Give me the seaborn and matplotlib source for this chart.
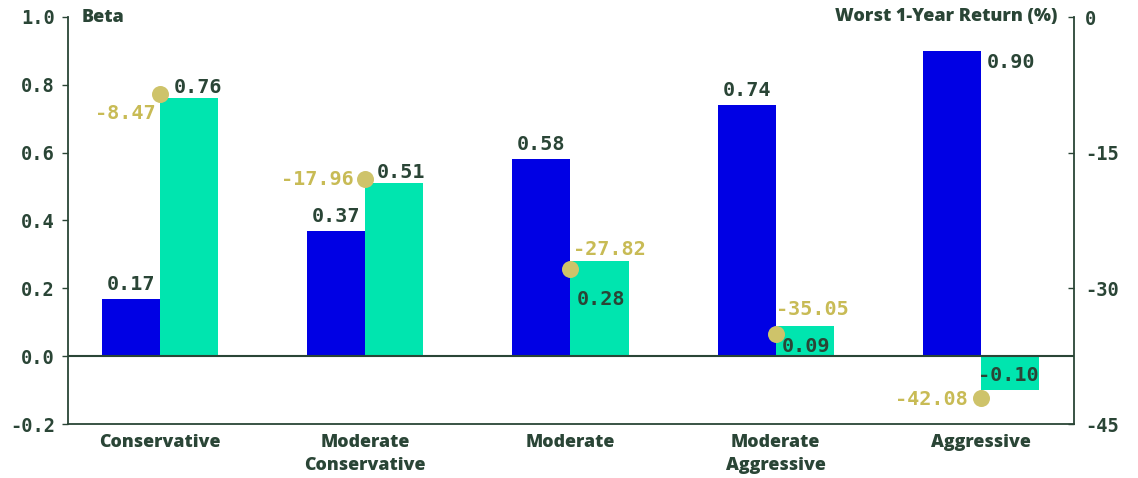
import matplotlib
matplotlib.use("Agg")
import matplotlib.pyplot as plt
import numpy as np
import pandas as pd
import seaborn as sns

# --- data -------------------------------------------------------------
categories = ["Conservative", "Moderate\nConservative", "Moderate",
              "Moderate\nAggressive", "Aggressive"]
beta_a = [0.17, 0.37, 0.58, 0.74, 0.90]
beta_b = [0.76, 0.51, 0.28, 0.09, -0.10]
worst_return = [-8.47, -17.96, -27.82, -35.05, -42.08]
beta_ticks = [-0.2, 0.0, 0.2, 0.4, 0.6, 0.8, 1.0]
return_ticks = [0, -15, -30, -45]

# --- style ------------------------------------------------------------
BLUE = "#0000E4"
TEAL = "#00E5AF"
GOLD = "#CEC36A"
GOLD_TXT = "#C8BB55"
DARK = "#2A4536"
MONO = "DejaVu Sans Mono"
SANS = "Open Sans"

sns.set_theme(style="white")
plt.rcParams["font.family"] = [SANS, "DejaVu Sans"]

DPI = 100
fig = plt.figure(figsize=(11.38, 4.78), dpi=DPI)
ax = fig.add_axes([68 / 1138, 1 - 424 / 478, (1074 - 68) / 1138, (424 - 17) / 478])

df = pd.DataFrame({
    "category": categories * 2,
    "series": ["beta_a"] * len(categories) + ["beta_b"] * len(categories),
    "beta": beta_a + beta_b,
})
sns.barplot(data=df, x="category", y="beta", hue="series",
            palette=[BLUE, TEAL], width=0.566, saturation=1,
            linewidth=0, legend=False, ax=ax)

ax.set_xlim(-0.449, 4.454)
ax.set_ylim(-0.2, 1.0)
ax.set_yticks(beta_ticks)
ax.set_yticklabels([f"{t:.1f}" for t in beta_ticks])
ax.set_xlabel("")
ax.set_ylabel("")
ax.axhline(0, color=DARK, lw=1.5, zorder=3)

for side in ["left", "bottom", "right"]:
    ax.spines[side].set_visible(True)
    ax.spines[side].set_color(DARK)
    ax.spines[side].set_linewidth(1.3)
ax.spines["top"].set_visible(False)

ax.tick_params(axis="y", direction="out", length=4, width=1, color=DARK,
               pad=5.5, labelcolor=DARK, left=True)
ax.tick_params(axis="x", length=0, pad=7, labelcolor=DARK)
for lbl in ax.get_yticklabels():
    lbl.set_fontfamily(MONO)
    lbl.set_fontweight("bold")
    lbl.set_fontsize(13.5)
for lbl in ax.get_xticklabels():
    lbl.set_fontfamily([SANS, "DejaVu Sans"])
    lbl.set_fontweight("heavy")
    lbl.set_fontsize(12.8)
    lbl.set_linespacing(1.5)

# secondary axis: worst one-year return
ax2 = ax.twinx()
ax2.set_ylim(-45, 0)
ax2.set_yticks(return_ticks)
ax2.set_yticklabels([str(t) for t in return_ticks])
ax2.tick_params(axis="y", direction="in", length=4, width=1, color=DARK,
                pad=8, labelcolor=DARK, right=True)
for lbl in ax2.get_yticklabels():
    lbl.set_fontfamily(MONO)
    lbl.set_fontweight("bold")
    lbl.set_fontsize(13.5)
for s in ax2.spines.values():
    s.set_visible(False)

xpos = np.arange(len(categories))
sns.scatterplot(x=xpos, y=worst_return, color=GOLD, s=150, linewidth=0,
                ax=ax2, zorder=5, legend=False)
ax2.set_xlim(ax.get_xlim())
ax2.grid(False)
ax.grid(False)

px = 72 / DPI  # points per pixel

def put(axis, x, y, text, dx, dy, ha, va, color, z=6):
    axis.annotate(text, (x, y), xytext=(dx * px, dy * px),
                  textcoords="offset points", ha=ha, va=va, color=color,
                  fontfamily=MONO, fontweight="bold", fontsize=14.5, zorder=z)

# value labels on bars (offsets in pixels)
blue_bars = ax.containers[0]
teal_bars = ax.containers[1]
blue_layout = [(0, 5, "center", "bottom")] * 4 + [("edge", -12, "left", "center")]
for bar, v, (dx, dy, ha, va) in zip(blue_bars, beta_a, blue_layout):
    if dx == "edge":
        put(ax, bar.get_x() + bar.get_width(), v, f"{v:.2f}", 6, dy, ha, va, DARK)
    else:
        put(ax, bar.get_x() + bar.get_width() / 2, v, f"{v:.2f}", dx, dy, ha, va, DARK)

teal_layout = [(9, 11), (7, 11), (1, -38), (1, -21), (-2, 15)]
for bar, v, (dx, dy) in zip(teal_bars, beta_b, teal_layout):
    put(ax, bar.get_x() + bar.get_width() / 2, v, f"{v:.2f}", dx, dy,
        "center", "center", DARK)

gold_layout = [(-5, -20, "right"), (-12, 0, "right"), (3, 19, "left"),
               (0, 25, "left"), (-13, -2, "right")]
for x, v, (dx, dy, ha) in zip(xpos, worst_return, gold_layout):
    put(ax2, x, v, f"{v:.2f}", dx, dy, ha, "center", GOLD_TXT)

# axis titles
ax.text(0.014, 1.0, "Beta", transform=ax.transAxes, ha="left", va="center",
        color=DARK, fontsize=13, fontweight="heavy")
ax.text(0.983, 1.0, "Worst 1-Year Return (%)", transform=ax.transAxes,
        ha="right", va="center", color=DARK, fontsize=13, fontweight="heavy")

fig.savefig("out.png", dpi=DPI, facecolor="white")
